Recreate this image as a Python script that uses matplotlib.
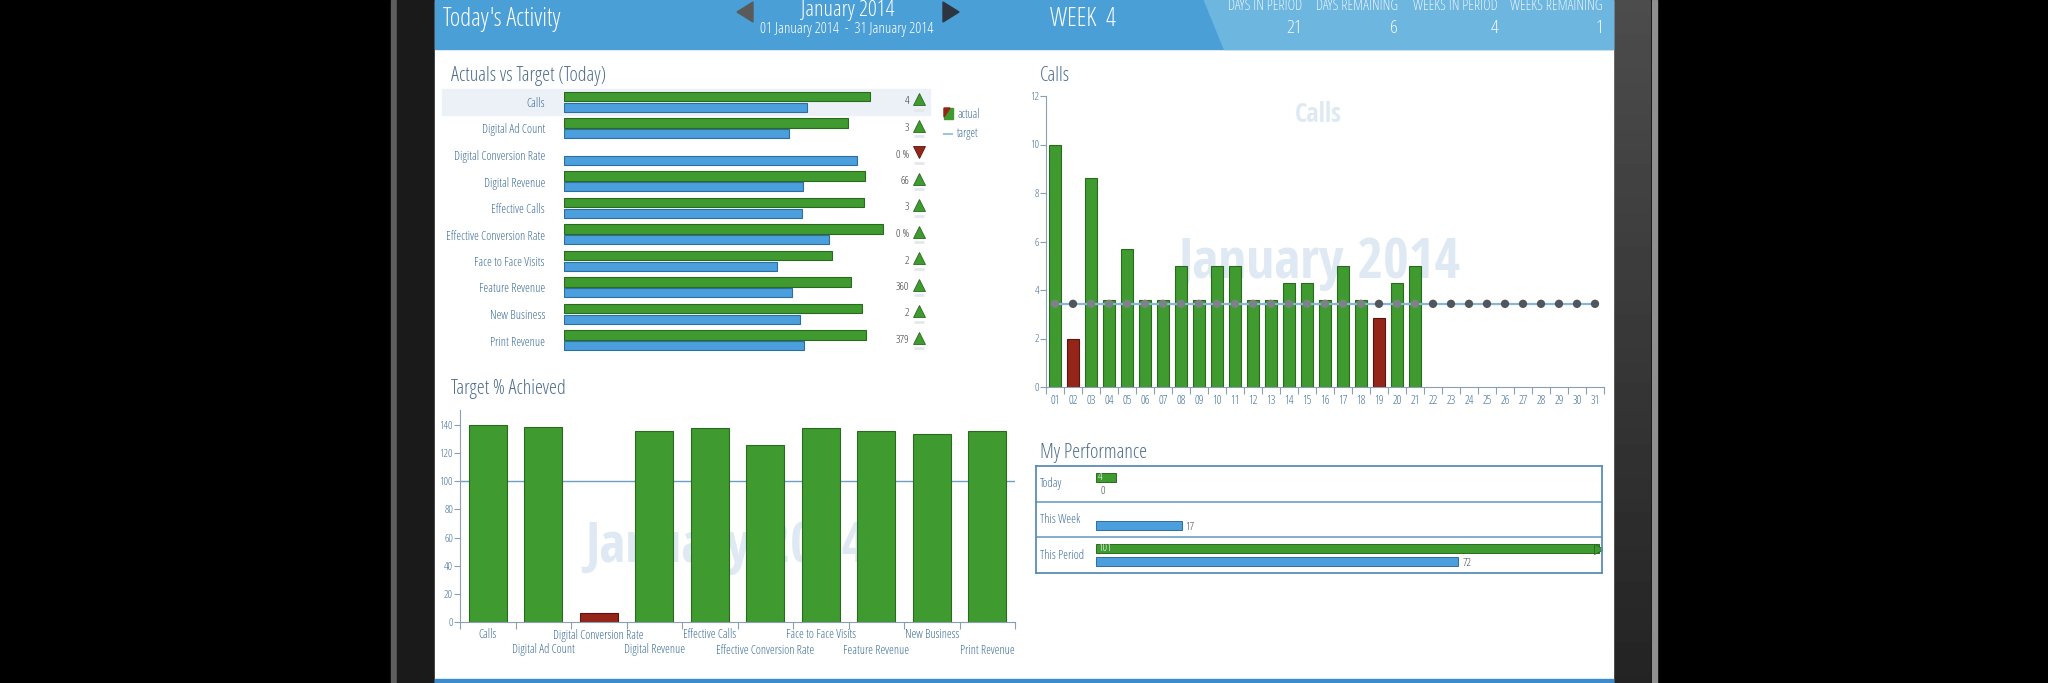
import numpy as np
import matplotlib
matplotlib.use("Agg")
import matplotlib.pyplot as plt
from matplotlib.patches import Rectangle, Polygon

W, H = 2048, 683          # output size in px (dpi 100)
PT = 72 / 100             # px -> pt

# ---- data ----
kpis = ["Calls", "Digital Ad Count", "Digital Conversion Rate", "Digital Revenue",
        "Effective Calls", "Effective Conversion Rate", "Face to Face Visits",
        "Feature Revenue", "New Business", "Print Revenue"]
kpi_actual_bar = [87.4, 81.1, 0, 86.0, 85.6, 91.0, 76.6, 81.9, 85.1, 86.4]   # % of row scale
kpi_target_bar = [69.4, 64.3, 83.6, 68.2, 67.9, 75.8, 60.8, 65.1, 67.4, 68.6]
kpi_value_text = ["4", "3", "0 %", "66", "3", "0 %", "2", "360", "2", "379"]
kpi_trend_up = [True, True, False, True, True, True, True, True, True, True]

pct_achieved = [140, 138.6, 6.1, 135.5, 138, 125.8, 137.6, 135.5, 133.8, 135.5]
pct_target = 100

days = list(range(1, 32))
day_labels = [f"{d:02d}" for d in days]
calls_per_day = [10, 2, 8.6, 3.6, 5.7, 3.6, 3.6, 5, 3.6, 5, 5, 3.6, 3.6,
                 4.3, 4.3, 3.6, 5, 3.6, 2.86, 4.3, 5]
calls_target = 3.43

perf_rows = ["Today", "This Week", "This Period"]
perf_actual = [4, 0, 101]
perf_target = [0, 17, 72]
PERF_MAX = 100

header_stats = ["DAYS IN PERIOD", "DAYS REMAINING", "WEEKS IN PERIOD", "WEEKS REMAINING"]
header_values = [21, 6, 4, 1]

# ---- style: condensed light face, close to the Segoe UI Light look ----
plt.rcParams["font.family"] = ["Open Sans", "DejaVu Sans"]
plt.rcParams["font.weight"] = 300
plt.rcParams["font.stretch"] = "condensed"
WMFONT = dict(family=["Open Sans Condensed", "DejaVu Sans"], fontweight="bold", fontstretch="condensed")
TXT = "#3d6d99"
TITLE = "#4f6e8c"
GREEN, GREEN_E = "#3f9a2f", "#2a6a1e"
RED, RED_E = "#952519", "#5c140d"
BLUE, BLUE_E = "#4b9fdc", "#2e6e9e"
AXIS = "#8c9fb0"
WM = "#dfe9f3"
HDR, HDR2 = "#4aa0d6", "#6db6e0"

fig = plt.figure(figsize=(W / 100, H / 100), dpi=100, facecolor="black")


def px_axes(x0, y0, x1, y1):
    ax = fig.add_axes([x0 / W, 1 - y1 / H, (x1 - x0) / W, (y1 - y0) / H])
    ax.set_facecolor("none")
    return ax


# background layer in pixel coords (y down)
bg = fig.add_axes([0, 0, 1, 1])
bg.axis("off")
bg.add_patch(Rectangle((391, 0), 6, H, color="#5e5e5e"))
bg.add_patch(Rectangle((397, 0), 38, H, color="#1a1a1a"))
grad = np.linspace(0.30, 0.14, 100)[:, None]
bg.imshow(grad, extent=(1613, 1651, H, 0), cmap="gray", vmin=0, vmax=1, aspect="auto")
bg.add_patch(Rectangle((1652, 0), 5, H, color="#8f8f8f"))
bg.add_patch(Rectangle((435, 0), 1178, H, color="white"))
bg.add_patch(Rectangle((435, 679), 1178, 4, color="#3b8ccf"))
# header band
bg.add_patch(Rectangle((435, 0), 1178, 49, color=HDR))
bg.add_patch(Polygon([(1204, 0), (1613, 0), (1613, 49), (1224, 49)], color=HDR2))
bg.add_patch(Polygon([(737, 12), (753, 2), (753, 22)], color="#5a5a5a"))
bg.add_patch(Polygon([(959, 12), (943, 2), (943, 22)], color="#2d3640"))
bg.text(443, 20, "Today's Activity", color="white", fontsize=18, va="center", ha="left")
bg.text(848, 16, "January 2014", color="white", fontsize=16, va="baseline", ha="center")
bg.text(847, 33, "01 January 2014  -  31 January 2014", color="white", fontsize=11,
        va="baseline", ha="center")
bg.text(1083, 19, "WEEK  4", color="white", fontsize=18, va="center", ha="center")
for lab, val, xr in zip(header_stats, header_values, [1302, 1398, 1498, 1603]):
    bg.text(xr, 6, lab, color="#e8f3fb", fontsize=10.5, va="center", ha="right")
    bg.text(xr, 28, str(val), color="#f2f8fc", fontsize=14, va="center", ha="right")

# panel titles
for x, y, s in [(451, 76, "Actuals vs Target (Today)"), (451, 389, "Target % Achieved"),
                (1040, 76, "Calls"), (1040, 453, "My Performance")]:
    bg.text(x, y, s, color=TITLE, fontsize=14.5, va="center", ha="left")

# watermarks
bg.text(726, 562, "January 2014", color=WM, fontsize=40, ha="center", va="baseline", **WMFONT)
bg.text(1319, 278, "January 2014", color=WM, fontsize=40, ha="center", va="baseline", **WMFONT)
bg.text(1318, 122, "Calls", color=WM, fontsize=19, ha="center", va="baseline", **WMFONT)

# highlighted first row + legend of panel 1
bg.add_patch(Rectangle((442, 89), 488, 26, color="#ecf1f8"))
bg.add_patch(Polygon([(944, 108), (953, 108), (953, 119), (944, 119)], color=GREEN))
bg.add_patch(Polygon([(944, 108), (950, 108), (944, 117)], color=RED))
bg.text(957, 114, "actual", color=TXT, fontsize=8.5, va="center")
bg.plot([944, 952], [134, 134], color="#9fc4e0", lw=1.5)
bg.text(957, 134, "target", color=TXT, fontsize=8.5, va="center")
bg.set_xlim(0, W)
bg.set_ylim(H, 0)

# ---- Actuals vs Target (Today) ----
ax1 = px_axes(564, 88.75, 1000, 353.75)
ax1.set_xlim(0, 436 / 3.5)
ax1.set_ylim(9.5, -0.5)
yy = np.arange(len(kpis))
ax1.barh(yy - 0.2075, kpi_actual_bar, height=0.36, color=GREEN, edgecolor=GREEN_E,
         lw=[0.8 if v > 0 else 0 for v in kpi_actual_bar])
ax1.barh(yy + 0.19, kpi_target_bar, height=0.34, color=BLUE, edgecolor=BLUE_E,
         lw=[0.8 if v > 0 else 0 for v in kpi_target_bar])
ax1.set_yticks(yy, kpis)
ax1.set_xticks([])
ax1.tick_params(axis="y", length=0, pad=19 * PT, labelsize=8.8, labelcolor=TXT)
for s in ax1.spines.values():
    s.set_visible(False)
for i, (txt, up) in enumerate(zip(kpi_value_text, kpi_trend_up)):
    ax1.text(98.6, i, txt, ha="right", va="center", fontsize=8, color="#333333")
    ax1.plot(101.4, i - 0.11, marker="^" if up else "v", ms=8,
             color=GREEN if up else RED, mec=GREEN_E if up else RED_E, mew=0.6)
    ax1.plot(101.4, i + 0.3, marker="_", ms=7, mew=2, color="#e4e8ea")

# ---- Target % Achieved ----
ax2 = px_axes(460, 410, 1015, 622)
ax2.set_xlim(-0.5, len(kpis) - 0.5)
ax2.set_ylim(0, 150.7)
xs = np.arange(len(kpis))
ok = [p >= pct_target for p in pct_achieved]
ax2.bar(xs, pct_achieved, width=0.69, color=[GREEN if o else RED for o in ok],
        edgecolor=[GREEN_E if o else RED_E for o in ok], lw=0.8, zorder=2)
ax2.axhline(pct_target, color="#6d9fc2", lw=1, zorder=1)
ax2.set_yticks(range(0, 141, 20))
ax2.set_xticks(np.arange(-0.5, len(kpis)), [])
for i, k in enumerate(kpis):
    off = 13 if i % 2 == 0 else 28
    ax2.annotate(k, xy=(i, 0), xycoords=("data", "axes fraction"), xytext=(0, -off * PT),
                 textcoords="offset points", ha="center", va="center", fontsize=8.7, color=TXT)

# ---- Calls per day ----
ax3 = px_axes(1046, 96, 1604, 387)
ax3.set_xlim(0.5, 31.5)
ax3.set_ylim(0, 12)
cd = days[:len(calls_per_day)]
ok3 = [c >= calls_target for c in calls_per_day]
ax3.bar(cd, calls_per_day, width=0.68, color=[GREEN if o else RED for o in ok3],
        edgecolor=[GREEN_E if o else RED_E for o in ok3], lw=0.8, zorder=2)
ax3.plot(days, [calls_target] * len(days), color="#86b6d8", lw=1.6, zorder=3)
covered = [i < len(calls_per_day) and calls_per_day[i] >= calls_target for i in range(len(days))]
ax3.scatter(days, [calls_target] * len(days), s=36, zorder=4,
            c=["#7d8287" if c else "#50565b" for c in covered], edgecolors="none")
ax3.set_yticks(range(0, 13, 2))
ax3.set_xticks(np.arange(0.5, 32), [])
for d, lab in zip(days, day_labels):
    ax3.annotate(lab, xy=(d, 0), xycoords=("data", "axes fraction"), xytext=(0, -13 * PT),
                 textcoords="offset points", ha="center", va="center", fontsize=8.5, color=TXT)

for ax in (ax2, ax3):
    for s in ("top", "right"):
        ax.spines[s].set_visible(False)
    for s in ("left", "bottom"):
        ax.spines[s].set_color(AXIS)
    ax.tick_params(axis="y", length=4, color=AXIS, labelsize=8, labelcolor=TXT, pad=1)
    ax.tick_params(axis="x", length=5, color=AXIS)

# ---- My Performance ----
ax4 = px_axes(1036, 466, 1602, 573)
ax4.set_xlim(-11.93, 100.6)
ax4.set_ylim(len(perf_rows), 0)
ax4.set_xticks([])
ax4.set_yticks([])
for s in ax4.spines.values():
    s.set_color("#5b8db5")
    s.set_linewidth(1.3)
for r in range(1, len(perf_rows)):
    ax4.axhline(r, color="#6d9fc2", lw=1.2)
for i, (lab, a, t) in enumerate(zip(perf_rows, perf_actual, perf_target)):
    ax4.text(-11.2, i + 0.5, lab, va="center", ha="left", fontsize=8.8, color=TXT)
    if a > 0:
        ax4.barh(i + 0.32, min(a, PERF_MAX), height=0.25, color=GREEN, edgecolor=GREEN_E, lw=0.7)
        if a > PERF_MAX:
            ax4.plot(PERF_MAX, i + 0.32, marker=">", ms=6.5, color=GREEN, mec=GREEN_E, mew=0.6)
        ax4.text(0.4, i + 0.32, str(a), va="center", ha="left", fontsize=8, color="white")
    if t > 0:
        ax4.barh(i + 0.67, t, height=0.25, color=BLUE, edgecolor=BLUE_E, lw=0.7)
    ax4.text(t + 0.8, i + 0.72, str(t), va="center", ha="left", fontsize=8, color="#444444")

fig.savefig("out.png", dpi=100, facecolor="black")
